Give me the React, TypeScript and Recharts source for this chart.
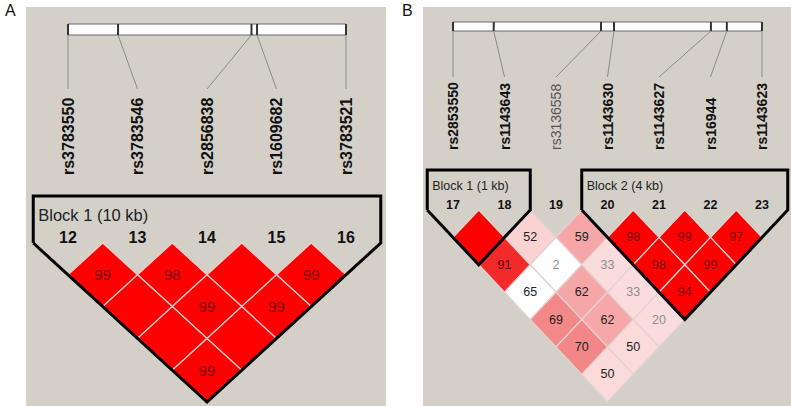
import React from 'react';
import { ScatterChart, Scatter, XAxis, YAxis, ReferenceArea, ReferenceLine } from 'recharts';

const FONT = '"Liberation Sans", Arial, Helvetica, sans-serif';

// ---------- Panel A data ----------
const aMarkerIds = ['12', '13', '14', '15', '16'];
const aSnpNames = ['rs3783550', 'rs3783546', 'rs2856838', 'rs1609682', 'rs3783521'];
const aSnpBold = [true, true, true, true, true];
const aSnpPosKb = [0, 1.8, 6.6, 6.8, 10.0];
const aCellFrom = [0, 1, 2, 3, 0, 1, 2, 0, 1, 0];
const aCellTo = [1, 2, 3, 4, 2, 3, 4, 3, 4, 4];
const aCellValue: (number | null)[] = [99, 98, null, 99, null, 99, 99, null, null, 99];
const aCellColor = ['#FF0000', '#FF0000', '#FF0000', '#FF0000', '#FF0000', '#FF0000', '#FF0000', '#FF0000', '#FF0000', '#FF0000'];
const aCellText = ['#7A0000', '#7A0000', '#7A0000', '#7A0000', '#7A0000', '#7A0000', '#7A0000', '#7A0000', '#7A0000', '#7A0000'];
const aBlockStart = [0];
const aBlockEnd = [4];
const aBlockLabel = ['Block 1 (10 kb)'];

// ---------- Panel B data ----------
const bMarkerIds = ['17', '18', '19', '20', '21', '22', '23'];
const bSnpNames = ['rs2853550', 'rs1143643', 'rs3136558', 'rs1143630', 'rs1143627', 'rs16944', 'rs1143623'];
const bSnpBold = [true, true, false, true, true, true, true];
const bSnpPosKb = [0, 1.1, 4.0, 4.35, 6.97, 7.4, 8.35];
const bCellFrom = [0, 1, 2, 3, 4, 5, 0, 1, 2, 3, 4, 0, 1, 2, 3, 0, 1, 2, 0, 1, 0];
const bCellTo = [1, 2, 3, 4, 5, 6, 2, 3, 4, 5, 6, 3, 4, 5, 6, 4, 5, 6, 5, 6, 6];
const bCellValue: (number | null)[] = [null, 52, 59, 98, 99, 97, 91, 2, 33, 98, 99, 65, 62, 33, 94, 69, 62, 20, 70, 50, 50];
const bCellColor = [
  '#FF0000', '#F9D2D2', '#F6A6A6', '#FF0000', '#FF0000', '#FF0000',
  '#F22A2A', '#FFFFFF', '#FBDCDC', '#FF0000', '#FF0000',
  '#FFFFFF', '#F5A6A6', '#FBDCDC', '#FF0000',
  '#F38888', '#F6A8A8', '#FBDCDC',
  '#F38686', '#FBDADA',
  '#FBDADA',
];
const bCellText = [
  '#7A0000', '#222222', '#222222', '#7A0000', '#7A0000', '#7A0000',
  '#5A0000', '#8C8C8C', '#8C8C8C', '#7A0000', '#7A0000',
  '#222222', '#222222', '#8C8C8C', '#7A0000',
  '#222222', '#222222', '#8C8C8C',
  '#222222', '#222222',
  '#222222',
];
const bBlockStart = [0, 3];
const bBlockEnd = [1, 6];
const bBlockLabel = ['Block 1 (1 kb)', 'Block 2 (4 kb)'];

type Layout = {
  left: number; width: number; height: number;
  x0: number; sx: number; y0: number; sy: number;
  barTop: number; barBottom: number; connEnd: number; labelBase: number;
  numY: number; blockTop: number; blockLabelY: number;
  labelFont: number; numFont: number; blockFont: number; cellFont: number;
  cellStroke: string;
};

const layoutA: Layout = {
  left: 0, width: 395, height: 406,
  x0: 68, sx: 69.5, y0: 243, sy: 31.8,
  barTop: 24, barBottom: 35, connEnd: 89, labelBase: 175,
  numY: 237, blockTop: 196, blockLabelY: 215,
  labelFont: 16, numFont: 16, blockFont: 16.5, cellFont: 15,
  cellStroke: '#F6CACA',
};

const layoutB: Layout = {
  left: 395, width: 396, height: 406,
  x0: 58, sx: 51.5, y0: 210, sy: 27.4,
  barTop: 22, barBottom: 31, connEnd: 77, labelBase: 150,
  numY: 205, blockTop: 170, blockLabelY: 186,
  labelFont: 14, numFont: 12.5, blockFont: 12.5, cellFont: 12.5,
  cellStroke: '#E2D2D2',
};

type PanelProps = {
  L: Layout;
  ids: string[]; names: string[]; bold: boolean[]; posKb: number[];
  from: number[]; to: number[]; values: (number | null)[]; colors: string[]; textColors: string[];
  blockStart: number[]; blockEnd: number[]; blockLabels: string[];
};

function LDPanel(p: PanelProps) {
  const { L } = p;
  const n = p.ids.length;
  const uy = (py: number) => (py - L.y0) / L.sy;
  const xDomain: [number, number] = [-L.x0 / L.sx, (L.width - L.x0) / L.sx];
  const yDomain: [number, number] = [uy(0), uy(L.height)];
  const span = p.posKb[n - 1] - p.posKb[0];
  const physX = p.posKb.map((v) => ((v - p.posKb[0]) / span) * (n - 1));

  const cells = p.from.map((i, k) => ({
    x: (i + p.to[k]) / 2,
    y: p.to[k] - i,
    v: p.values[k],
    color: p.colors[k],
    tc: p.textColors[k],
  }));
  const labels = p.names.map((name, i) => ({ x: i, y: uy(L.labelBase), name, bold: p.bold[i] }));
  const nums = p.ids.map((id, i) => ({ x: i, y: uy(L.numY), id }));
  const blockLabelPts = p.blockStart.map((s, k) => ({ x: s - 0.5 + 5 / L.sx, y: uy(L.blockLabelY), label: p.blockLabels[k] }));
  const outlines = p.blockStart.map((s, k) => {
    const e = p.blockEnd[k];
    const top = uy(L.blockTop);
    return [
      { x: s - 0.5, y: 0 },
      { x: s - 0.5, y: top },
      { x: e + 0.5, y: top },
      { x: e + 0.5, y: 0 },
      { x: (s + e) / 2, y: e - s + 1 },
      { x: s - 0.5, y: 0 },
    ];
  });

  const hw = 0.5 * L.sx;
  const hh = L.sy;

  const diamondShape = (props: any) => {
    const { cx, cy, payload } = props;
    if (cx == null || cy == null) return <g />;
    const pts = `${cx},${cy - hh} ${cx + hw},${cy} ${cx},${cy + hh} ${cx - hw},${cy}`;
    return (
      <g>
        <polygon points={pts} fill={payload.color} stroke={L.cellStroke} strokeWidth={1.3} />
        {payload.v != null && (
          <text x={cx} y={cy} textAnchor="middle" dominantBaseline="central" fontFamily={FONT} fontSize={L.cellFont} fill={payload.tc}>
            {payload.v}
          </text>
        )}
      </g>
    );
  };

  const labelShape = (props: any) => {
    const { cx, cy, payload } = props;
    return (
      <text
        x={cx}
        y={cy}
        dy="0.36em"
        transform={`rotate(-90, ${cx}, ${cy})`}
        textAnchor="start"
        fontFamily={FONT}
        fontSize={L.labelFont}
        fontWeight={payload.bold ? 'bold' : 'normal'}
        fill={payload.bold ? '#111' : '#555'}
      >
        {payload.name}
      </text>
    );
  };

  const numShape = (props: any) => {
    const { cx, cy, payload } = props;
    return (
      <text x={cx} y={cy} textAnchor="middle" dominantBaseline="central" fontFamily={FONT} fontSize={L.numFont} fontWeight="bold" fill="#111">
        {payload.id}
      </text>
    );
  };

  const blockLabelShape = (props: any) => {
    const { cx, cy, payload } = props;
    return (
      <text x={cx} y={cy} textAnchor="start" dominantBaseline="central" fontFamily={FONT} fontSize={L.blockFont} fill="#222">
        {payload.label}
      </text>
    );
  };

  const empty = () => <g />;

  return (
    <div style={{ position: 'absolute', left: L.left, top: 0, width: L.width, height: L.height }}>
      <ScatterChart width={L.width} height={L.height} margin={{ top: 0, right: 0, bottom: 0, left: 0 }}>
        <XAxis type="number" dataKey="x" domain={xDomain} hide allowDataOverflow />
        <YAxis type="number" dataKey="y" domain={yDomain} reversed hide allowDataOverflow />
        {/* gene bar */}
        <ReferenceArea x1={0} x2={n - 1} y1={uy(L.barTop)} y2={uy(L.barBottom)} fill="#FFFFFF" fillOpacity={1} stroke="#6A6A6A" strokeWidth={1} ifOverflow="visible" />
        {physX.map((px, i) => (
          <ReferenceLine key={`t${i}`} segment={[{ x: px, y: uy(L.barTop) }, { x: px, y: uy(L.barBottom) }]} stroke="#333" strokeWidth={2} ifOverflow="visible" />
        ))}
        {physX.map((px, i) => (
          <ReferenceLine key={`c${i}`} segment={[{ x: px, y: uy(L.barBottom) }, { x: i, y: uy(L.connEnd) }]} stroke="#8A8A8A" strokeWidth={1} ifOverflow="visible" />
        ))}
        <Scatter data={labels} shape={labelShape} isAnimationActive={false} />
        <Scatter data={nums} shape={numShape} isAnimationActive={false} />
        <Scatter data={cells} shape={diamondShape} isAnimationActive={false} />
        {outlines.map((o, k) => (
          <Scatter key={`o${k}`} data={o} line={{ stroke: '#000', strokeWidth: 3 }} lineJointType="linear" shape={empty} isAnimationActive={false} />
        ))}
        <Scatter data={blockLabelPts} shape={blockLabelShape} isAnimationActive={false} />
      </ScatterChart>
    </div>
  );
}

export default function App() {
  return (
    <div style={{ position: 'absolute', left: 0, top: 0, width: 791, height: 406, background: '#FFFFFF', overflow: 'hidden' }}>
      <div style={{ position: 'absolute', left: 26, top: 7, width: 360, height: 399, background: '#D4D0C8' }} />
      <div style={{ position: 'absolute', left: 423, top: 7, width: 368, height: 399, background: '#D4D0C8' }} />
      <div style={{ position: 'absolute', left: 5, top: 3, fontFamily: FONT, fontSize: 16, lineHeight: '16px', color: '#111' }}>A</div>
      <div style={{ position: 'absolute', left: 402, top: 3, fontFamily: FONT, fontSize: 16, lineHeight: '16px', color: '#111' }}>B</div>
      <LDPanel
        L={layoutA}
        ids={aMarkerIds} names={aSnpNames} bold={aSnpBold} posKb={aSnpPosKb}
        from={aCellFrom} to={aCellTo} values={aCellValue} colors={aCellColor} textColors={aCellText}
        blockStart={aBlockStart} blockEnd={aBlockEnd} blockLabels={aBlockLabel}
      />
      <LDPanel
        L={layoutB}
        ids={bMarkerIds} names={bSnpNames} bold={bSnpBold} posKb={bSnpPosKb}
        from={bCellFrom} to={bCellTo} values={bCellValue} colors={bCellColor} textColors={bCellText}
        blockStart={bBlockStart} blockEnd={bBlockEnd} blockLabels={bBlockLabel}
      />
    </div>
  );
}
